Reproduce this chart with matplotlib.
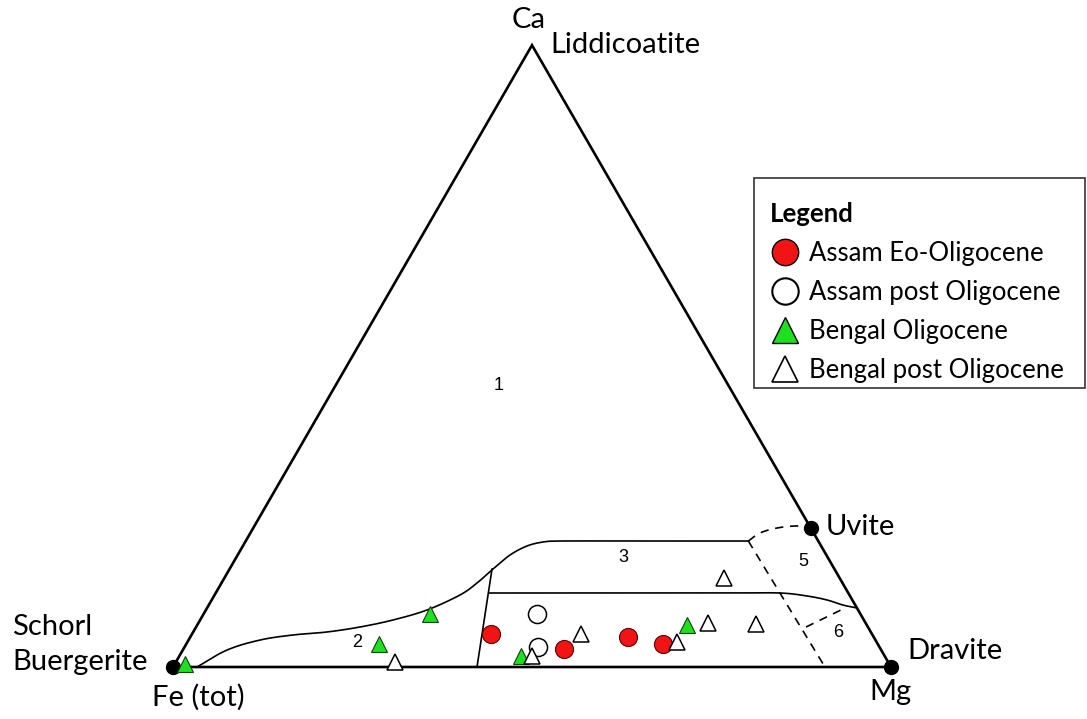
import numpy as np
import matplotlib
matplotlib.use("Agg")
import matplotlib.pyplot as plt
from matplotlib.lines import Line2D
from matplotlib.patches import Rectangle

# ---- Sample compositions, percent of Ca and Mg (Fe(tot) = remainder) ----
assam_eo_ca = [5.3, 2.9, 4.8, 3.7]
assam_eo_mg = [41.6, 53.0, 61.0, 66.4]
assam_post_ca = [8.5, 3.2]
assam_post_mg = [46.4, 49.2]
bengal_oli_ca = [0.5, 3.7, 8.5, 1.8, 6.8]
bengal_oli_mg = [1.4, 26.8, 31.5, 47.6, 68.2]
bengal_post_ca = [0.8, 1.8, 5.3, 4.0, 7.1, 6.9, 14.3]
bengal_post_mg = [30.5, 49.1, 54.2, 68.2, 71.0, 77.7, 69.6]

# ---- Field boundaries (Ca %, Mg %) ----
# 1/2 and 1/3 boundary: from near Schorl, rising to a plateau
upper_ca = [0.0, 2.73, 4.34, 5.15, 5.63, 6.43, 7.56, 9.17, 11.58, 13.51,
            15.76, 18.01, 19.46, 20.10, 20.26, 20.26, 20.26, 20.26]
upper_mg = [3.34, 6.16, 9.95, 14.14, 18.63, 22.83, 26.86, 30.80, 34.18, 35.59,
            36.69, 37.93, 39.57, 41.48, 43.77, 52.0, 61.0, 70.0]
# 2/4 divider
div_ca = [15.76, 0.0]
div_mg = [36.55, 42.34]
# 3/4 boundary, bending down to the Mg-Ca edge
mid_ca = [11.9, 11.9, 11.9, 11.9, 11.9, 11.42, 10.78, 9.97, 9.5]
mid_mg = [38.06, 50.0, 62.0, 72.0, 78.6, 82.6, 85.7, 88.3, 90.5]
# dashed boundaries of fields 5 and 6
dash_uv_ca = [20.26, 21.55, 22.35, 22.68, 22.35]
dash_uv_mg = [70.0, 70.98, 72.95, 75.57, 77.65]
dash_low_ca = [20.26, 0.0]
dash_low_mg = [70.0, 90.8]
dash_six_ca = [6.43, 9.33]
dash_six_mg = [84.95, 88.65]

# Triangle apices (Ca %, Mg %): Fe(tot), Ca, Mg
apex_ca = [0.0, 100.0, 0.0]
apex_mg = [0.0, 0.0, 100.0]
# End-member dots: Schorl/Buergerite, Dravite, Uvite
endmember_ca = [0.0, 0.0, 22.35]
endmember_mg = [0.0, 100.0, 77.65]

# Field numbers and their positions (Ca %, Mg %)
field_labels = ["1", "2", "3", "5", "6"]
field_ca = [45.35, 3.86, 17.69, 16.89, 5.47]
field_mg = [22.73, 23.7, 53.83, 79.3, 89.9]

H = np.sqrt(3) / 2


def tern(ca, mg):
    ca = np.asarray(ca, float) / 100.0
    mg = np.asarray(mg, float) / 100.0
    return mg + ca / 2.0, ca * H


def smooth(x, y, n=16):
    """Catmull-Rom spline through the given vertices."""
    p = np.column_stack([x, y])
    p = np.vstack([2 * p[0] - p[1], p, 2 * p[-1] - p[-2]])
    out = []
    t = np.linspace(0, 1, n, endpoint=False)[:, None]
    for i in range(1, len(p) - 2):
        p0, p1, p2, p3 = p[i - 1], p[i], p[i + 1], p[i + 2]
        seg = 0.5 * ((2 * p1) + (-p0 + p2) * t
                     + (2 * p0 - 5 * p1 + 4 * p2 - p3) * t ** 2
                     + (-p0 + 3 * p1 - 3 * p2 + p3) * t ** 3)
        out.append(seg)
    out.append(p[-2][None, :])
    out = np.vstack(out)
    return out[:, 0], out[:, 1]


W, Hpx = 1087, 719
fig = plt.figure(figsize=(W / 100, Hpx / 100), dpi=100)
ax = fig.add_axes([0, 0, 1, 1])
ax.set_xlim(-173 / 718, (W - 173) / 718)
ax.set_ylim(-(Hpx - 667) / 718, 667 / 718)
ax.axis("off")

FONT = "Lato"
NUM_FONT = "Liberation Sans"

# Triangle outline
ax_x, ax_y = tern(apex_ca, apex_mg)
ax.plot(np.append(ax_x, ax_x[0]), np.append(ax_y, ax_y[0]), color="black", lw=1.9,
        solid_joinstyle="miter", zorder=3)

# Field boundaries
lw_b = 1.2
x, y = smooth(*tern(upper_ca, upper_mg))
ax.plot(x, y, color="black", lw=lw_b, zorder=2)
ax.plot(*tern(div_ca, div_mg), color="black", lw=lw_b, zorder=2)
x, y = smooth(*tern(mid_ca, mid_mg))
ax.plot(x, y, color="black", lw=lw_b, zorder=2)
dash = (0, (5, 4))
x, y = smooth(*tern(dash_uv_ca, dash_uv_mg))
ax.plot(x, y, color="black", lw=lw_b, ls=dash, zorder=2)
ax.plot(*tern(dash_low_ca, dash_low_mg), color="black", lw=lw_b, ls=dash, zorder=2)
ax.plot(*tern(dash_six_ca, dash_six_mg), color="black", lw=lw_b, ls=dash, zorder=2)

# End-member dots
ex, ey = tern(endmember_ca, endmember_mg)
ax.plot(ex, ey, "o", ms=10, color="black", zorder=5, ls="none")

# Field numbers
for lab, c, m in zip(field_labels, field_ca, field_mg):
    fx, fy = tern(c, m)
    ax.text(fx, fy, lab, fontsize=13, family=NUM_FONT, ha="center", va="center", zorder=4)

# Samples
RED = "#f01414"
GREEN = "#1ee01e"
ax.plot(*tern(assam_eo_ca, assam_eo_mg), "o", ms=13, mfc=RED, mec="#5a0000", mew=0.8,
        ls="none", zorder=6)
ax.plot(*tern(assam_post_ca, assam_post_mg), "o", ms=13, mfc="white", mec="black", mew=1.1,
        ls="none", zorder=6)
ax.plot(*tern(bengal_oli_ca, bengal_oli_mg), "^", ms=12, mfc=GREEN, mec="#104010", mew=0.8,
        ls="none", zorder=6)
ax.plot(*tern(bengal_post_ca, bengal_post_mg), "^", ms=12, mfc="white", mec="black", mew=1.1,
        ls="none", zorder=6)


# Vertex names
def vlabel(text, vx, vy, dx_px, dy_px, ha):
    ax.annotate(text, xy=(vx, vy), xytext=(dx_px * 0.72, dy_px * 0.72),
                textcoords="offset points", ha=ha, va="center",
                fontsize=21, family=FONT, zorder=7)


fe = ax_x[0], ax_y[0]
ca = ax_x[1], ax_y[1]
mgv = ax_x[2], ax_y[2]
uv = ex[2], ey[2]
vlabel("Ca", *ca, -3, 25, "center")
vlabel("Liddicoatite", *ca, 18, 0, "left")
vlabel("Uvite", *uv, 15, 1, "left")
vlabel("Dravite", *mgv, 16, 16, "left")
vlabel("Mg", *mgv, -1, -25, "center")
vlabel("Fe (tot)", *fe, 25, -30, "center")
vlabel("Schorl", *fe, -161, 40, "left")
vlabel("Buergerite", *fe, -161, 5, "left")

# Legend: frame drawn as a separate box, entries laid out inside it
ax.add_patch(Rectangle((754 / W, 1 - 388 / Hpx), 331 / W, 210 / Hpx,
                       transform=fig.transFigure, facecolor="white",
                       edgecolor="#333333", lw=1.2, zorder=8, clip_on=False))
handles = [
    Line2D([], [], marker="o", ls="none", ms=19, mfc=RED, mec="black", mew=1.0),
    Line2D([], [], marker="o", ls="none", ms=19, mfc="white", mec="black", mew=1.5),
    Line2D([], [], marker="^", ls="none", ms=19, mfc=GREEN, mec="black", mew=1.0),
    Line2D([], [], marker="^", ls="none", ms=19, mfc="white", mec="black", mew=1.2),
]
labels = ["Assam Eo-Oligocene", "Assam post Oligocene", "Bengal Oligocene",
          "Bengal post Oligocene"]
leg = ax.legend(handles, labels, title="Legend", loc="upper left",
                bbox_to_anchor=(754 / W, 1 - 187 / Hpx), bbox_transform=fig.transFigure,
                borderaxespad=0, frameon=False,
                alignment="left", prop={"family": FONT, "size": 18.5},
                title_fontproperties={"family": FONT, "weight": "bold", "size": 18.5},
                handlelength=1.2, handletextpad=0.35, labelspacing=0.55,
                borderpad=0.6)
leg.set_zorder(9)

fig.savefig("out.png", dpi=100, facecolor="white")
